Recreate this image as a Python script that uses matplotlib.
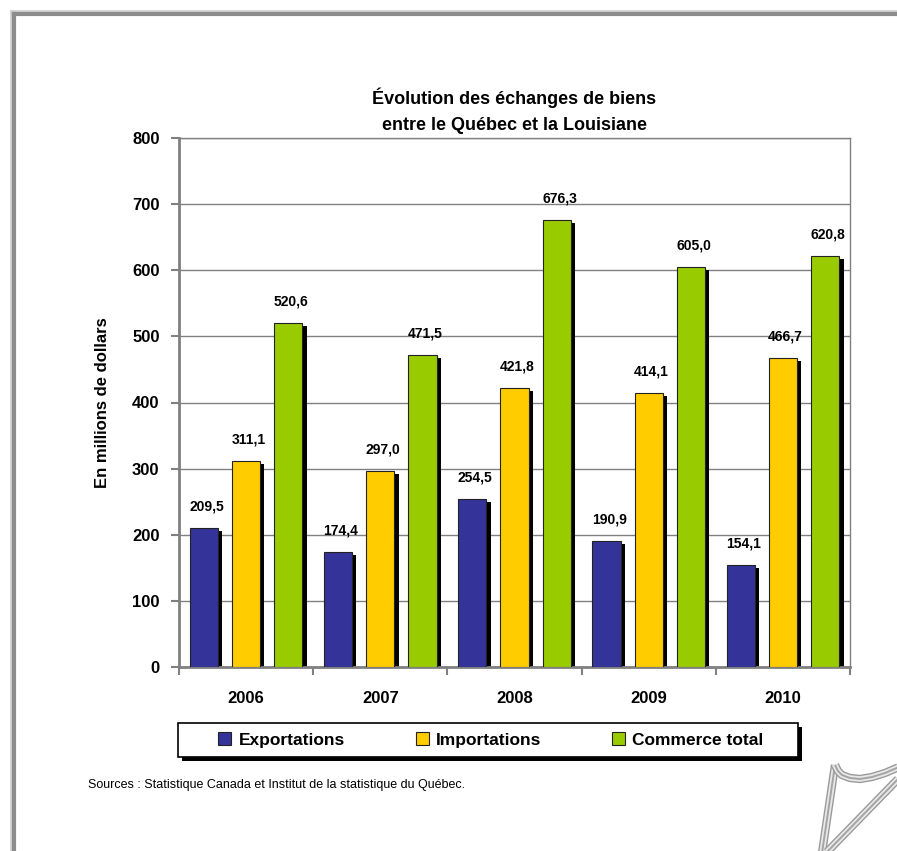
import matplotlib.pyplot as plt
import numpy as np
from matplotlib.patches import Patch, Rectangle
from matplotlib.lines import Line2D

plt.rcParams['font.family'] = ['Liberation Sans', 'DejaVu Sans']

# données (millions de dollars)
annees = ['2006', '2007', '2008', '2009', '2010']
exportations = [209.5, 174.4, 254.5, 190.9, 154.1]
importations = [311.1, 297.0, 421.8, 414.1, 466.7]
commerce_total = [520.6, 471.5, 676.3, 605.0, 620.8]

series = [
    ('Exportations', exportations, '#333399'),
    ('Importations', importations, '#FFCC00'),
    ('Commerce total', commerce_total, '#99CC00'),
]

W, H = 897, 851
fig = plt.figure(figsize=(W / 100, H / 100), dpi=100)
ax = fig.add_axes([179 / W, 1 - 667 / H, 671 / W, 529 / H])

x = np.arange(len(annees))
larg = 0.21
pas = 0.315
dx_ombre = 0.032
dy_ombre = 4.5

for i, (nom, vals, coul) in enumerate(series):
    pos = x + (i - 1) * pas
    ax.bar(pos + dx_ombre, np.array(vals) - dy_ombre, larg, color='black', zorder=2)
    ax.bar(pos, vals, larg, color=coul, edgecolor='#222222', linewidth=0.8, zorder=3)
    for p, v in zip(pos, vals):
        ax.text(p + 0.02, v + 22, f"{v:.1f}".replace('.', ','), ha='center', va='bottom',
                fontsize=10, fontweight='bold')

ax.set_xlim(-0.5, len(annees) - 0.5)
ax.set_ylim(0, 800)
ax.set_yticks(range(0, 801, 100))
ax.set_xticks(x)
ax.set_xticklabels(annees, fontsize=12, fontweight='bold')
ax.set_xticks(np.arange(-0.5, len(annees)), minor=True)
ax.tick_params(axis='x', which='major', length=0, pad=17)
ax.tick_params(axis='x', which='minor', length=6, width=1.5, color='#808080')
ax.tick_params(axis='y', length=6, width=1.5, color='#808080', pad=8, labelsize=12)
for lab in ax.get_yticklabels():
    lab.set_fontweight('bold')

ax.grid(axis='y', color='#808080', linewidth=1, zorder=0)
ax.set_axisbelow(True)
for s in ['top', 'right']:
    ax.spines[s].set_color('#808080')
    ax.spines[s].set_linewidth(1)
for s in ['left', 'bottom']:
    ax.spines[s].set_color('#808080')
    ax.spines[s].set_linewidth(2)

ax.set_ylabel('En millions de dollars', fontsize=12, fontweight='bold')
ax.yaxis.set_label_coords(-0.103, 0.5)

fig.text(514 / W, 1 - 98 / H, 'Évolution des échanges de biens', ha='center', va='center',
         fontsize=13, fontweight='bold')
fig.text(514 / W, 1 - 126 / H, 'entre le Québec et la Louisiane', ha='center', va='center',
         fontsize=13, fontweight='bold')

# légende : cadre dessiné à part, avec ombre
fig.add_artist(Rectangle((182 / W, 1 - 761 / H), 620 / W, 34 / H, transform=fig.transFigure,
                         facecolor='black', edgecolor='black', lw=0))
fig.add_artist(Rectangle((178 / W, 1 - 757 / H), 620 / W, 34 / H, transform=fig.transFigure,
                         facecolor='white', edgecolor='black', lw=1.2))
poignees = [Patch(facecolor=c, edgecolor='#222222', linewidth=0.8, label=n) for n, _, c in series]
leg = fig.legend(handles=poignees, ncol=3, loc='center', bbox_to_anchor=(491 / W, 1 - 740 / H),
                 frameon=False, fontsize=12.5,
                 handlelength=0.75, handleheight=0.75, handletextpad=0.4, columnspacing=4.1)
for t in leg.get_texts():
    t.set_fontweight('bold')

fig.text(88 / W, 1 - 785 / H, 'Sources : Statistique Canada et Institut de la statistique du Québec.',
         ha='left', va='center', fontsize=9)

# cadre de la page
fig.add_artist(Line2D([11 / W, 11 / W], [0, 1 - 11 / H], color='#d0d0d0', lw=2))
fig.add_artist(Line2D([11 / W, 1], [1 - 11 / H, 1 - 11 / H], color='#d0d0d0', lw=2))
fig.add_artist(Line2D([14 / W, 14 / W], [0, 1 - 14 / H], color='#8c8c8c', lw=3))
fig.add_artist(Line2D([14 / W, 1], [1 - 14 / H, 1 - 14 / H], color='#8c8c8c', lw=3))

# coin replié
traits = [
    ([822, 835], [853, 765]),
    ([835, 838, 842, 850, 860, 872, 885, 899], [765, 771, 775, 778, 779, 777, 773, 767]),
    ([826, 899], [853, 778]),
]
for xs, ys in traits:
    for lw, c in [(6, '#9a9a9a'), (4, '#e8e8e8'), (1.4, '#a4a4a4')]:
        fig.add_artist(Line2D([v / W for v in xs], [1 - v / H for v in ys], color=c, lw=lw,
                              solid_capstyle='butt', solid_joinstyle='round'))

fig.savefig('out.png', dpi=100)
